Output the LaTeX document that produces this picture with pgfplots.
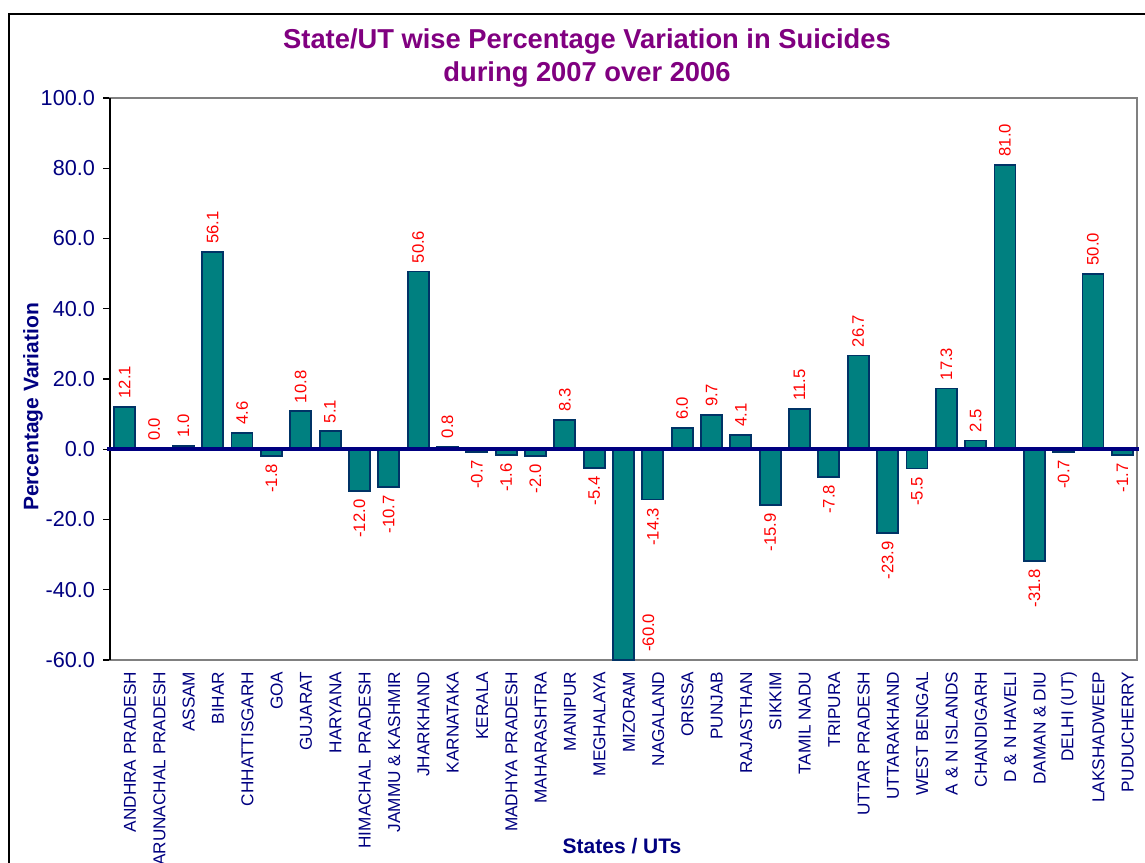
\documentclass[border=0pt]{standalone}
\usepackage{pgfplots}
\pgfplotsset{compat=1.18}
\usepackage{pgfplotstable}
\usepackage{fontspec}
\setmainfont{Liberation Sans}
\definecolor{navy}{RGB}{0,0,128}
\definecolor{ttl}{RGB}{128,0,128}
\definecolor{barfill}{RGB}{0,128,128}
\definecolor{baredge}{RGB}{0,51,102}
\definecolor{bordergray}{RGB}{128,128,128}

\pgfplotstableread{
x y
0 12.1
1 0.0
2 1.0
3 56.1
4 4.6
5 -1.8
6 10.8
7 5.1
8 -12.0
9 -10.7
10 50.6
11 0.8
12 -0.7
13 -1.6
14 -2.0
15 8.3
16 -5.4
17 -60.0
18 -14.3
19 6.0
20 9.7
21 4.1
22 -15.9
23 11.5
24 -7.8
25 26.7
26 -23.9
27 -5.5
28 17.3
29 2.5
30 81.0
31 -31.8
32 -0.7
33 50.0
34 -1.7
}\datatable

\begin{document}
\begin{tikzpicture}
\useasboundingbox (0,0) rectangle (858.75pt,647.25pt);
\draw[black, line width=1.2pt] (6.75pt,-20pt) -- (6.75pt,636.75pt) -- (880pt,636.75pt);
\begin{axis}[
  at={(82.5pt,152.25pt)}, anchor=south west,
  scale only axis, width=770.25pt, height=421.5pt,
  xmin=-0.5, xmax=34.5, ymin=-60, ymax=100,
  ytick={-60,-40,...,100},
  xtick={0,...,34},
  xticklabels={ANDHRA PRADESH,ARUNACHAL PRADESH,ASSAM,BIHAR,CHHATTISGARH,GOA,GUJARAT,HARYANA,HIMACHAL PRADESH,JAMMU \& KASHMIR,JHARKHAND,KARNATAKA,KERALA,MADHYA PRADESH,MAHARASHTRA,MANIPUR,MEGHALAYA,MIZORAM,NAGALAND,ORISSA,PUNJAB,RAJASTHAN,SIKKIM,TAMIL NADU,TRIPURA,UTTAR PRADESH,UTTARAKHAND,WEST BENGAL,A \& N ISLANDS,CHANDIGARH,D \& N HAVELI,DAMAN \& DIU,DELHI (UT),LAKSHADWEEP,PUDUCHERRY},
  axis line style={bordergray, line width=1.5pt},
  ytick pos=left, tick align=outside, major tick length=5.25pt,
  ytick style={black, line width=0.8pt},
  xtick style={draw=none},
  yticklabel style={font=\fontsize{16.25}{18}\selectfont, color=navy, xshift=-2.5pt,
    /pgf/number format/.cd, fixed, fixed zerofill, precision=1, assume math mode=true},
  xticklabel style={rotate=90, anchor=east, font=\fontsize{12.9}{14}\selectfont, color=navy, yshift=-4pt},
  clip=false,
  axis background/.style={fill=white},
]
\addplot[ybar, bar width=15.75pt, bar shift=0pt, fill=barfill, draw=baredge, line width=1.4pt] table[x=x,y=y]{\datatable};
\draw[black, line width=1.2pt] (rel axis cs:0,0) -- (rel axis cs:0,1);
\draw[navy, line width=3pt] (axis cs:-0.6,0) -- (axis cs:34.57,0);
\addplot[draw=none, restrict y to domain=0:200, point meta=y,
  nodes near coords={\pgfmathprintnumber[fixed,fixed zerofill,precision=1,assume math mode=true]{\pgfplotspointmeta}},
  every node near coord/.style={rotate=90, anchor=west, red, font=\fontsize{12.5}{14}\selectfont, inner xsep=6pt, inner ysep=0pt}]
  table[x=x,y=y]{\datatable};
\addplot[draw=none, restrict y to domain=-59:-0.01, point meta=y,
  nodes near coords={\pgfmathprintnumber[fixed,fixed zerofill,precision=1,assume math mode=true]{\pgfplotspointmeta}},
  every node near coord/.style={rotate=90, anchor=east, red, font=\fontsize{12.5}{14}\selectfont, inner xsep=6pt, inner ysep=0pt}]
  table[x=x,y=y]{\datatable};
\addplot[draw=none, restrict y to domain=-61:-59, point meta=y,
  nodes near coords={\pgfmathprintnumber[fixed,fixed zerofill,precision=1,assume math mode=true]{\pgfplotspointmeta}},
  every node near coord/.style={xshift=18.75pt, rotate=90, anchor=west, red, font=\fontsize{12.5}{14}\selectfont, inner xsep=6pt, inner ysep=0pt}]
  table[x=x,y=y]{\datatable};
\end{axis}
\node[ttl, font=\fontsize{20.5}{24.75}\selectfont\bfseries, align=center] at (440.25pt,603.5pt) {State/UT wise Percentage Variation in Suicides\\during 2007 over 2006};
\node[navy, font=\fontsize{15.75}{18}\selectfont\bfseries, rotate=90] at (24.75pt,342pt) {Percentage Variation};
\node[navy, font=\fontsize{15.75}{18}\selectfont\bfseries] at (466.5pt,12.75pt) {States / UTs};
\end{tikzpicture}
\end{document}
